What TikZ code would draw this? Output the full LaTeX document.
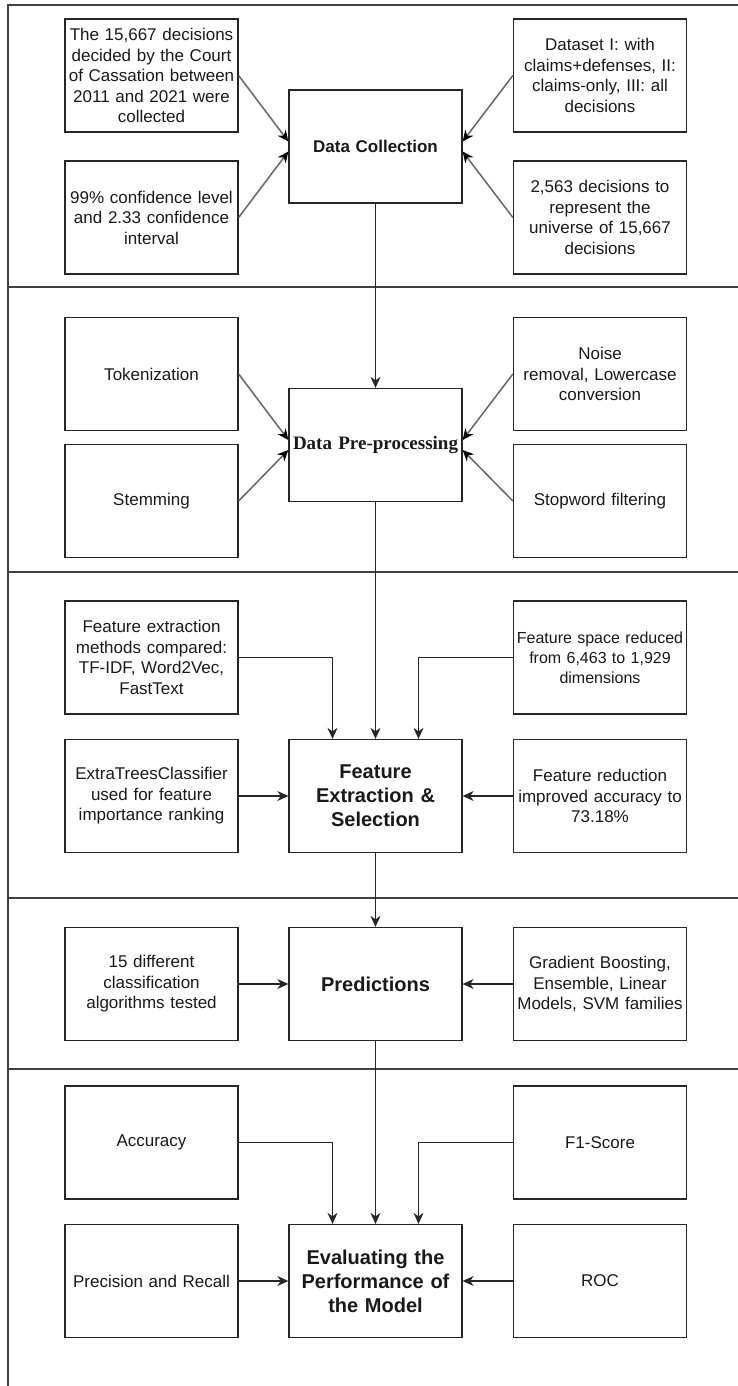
\documentclass[tikz,border=0pt]{standalone}
\usepackage{fontspec}
\setmainfont{Liberation Sans}
\newfontfamily\serifbold{Liberation Serif}
\usetikzlibrary{arrows.meta}
\tikzset{
	box/.style={draw=black!85, line width=1.3pt, minimum width=173pt, minimum height=113pt, text width=168pt, inner sep=0pt, align=center, text=black!90, font=\fontsize{17}{20.5}\selectfont},
	stagebox/.style={box, font=\bfseries\fontsize{20}{24}\selectfont},
	lane/.style={draw=black!75, line width=1.3pt},
	arr/.style={-{Stealth[length=11pt,width=10pt,inset=3.5pt]}, line width=1.3pt, draw=black!85},
	diag/.style={-{Stealth[length=11pt,width=10pt,inset=3.5pt,color=black]}, line width=1.5pt, draw=black!60}
}

\begin{document}
\begin{tikzpicture}[x=1pt, y=-1pt]
		%%%%% START %%%%%
		\useasboundingbox (0,0) rectangle (738,1386);
		
		\draw[lane] (738,5) -- (8,5) -- (8,1386);
		\draw[lane] (8,287) -- (738,287);
		\draw[lane] (8,572) -- (738,572);
		\draw[lane] (8,898) -- (738,898);
		\draw[lane] (8,1069) -- (738,1069);
		
		% data collection
		\node[box, font=\bfseries\fontsize{17}{20.5}\selectfont] (dc) at (375.5,146.5) {Data Collection};
		\node[box] (dc1) at (151.5,75.5) {The 15,667 decisions\\decided by the Court\\of Cassation between\\2011 and 2021 were\\collected};
		\node[box] (dc2) at (151.5,217.5) {99\% confidence level\\and 2.33 confidence\\interval};
		\node[box] (dc3) at (600,75.5) {Dataset I: with\\claims+defenses, II:\\claims-only, III: all\\decisions};
		\node[box] (dc4) at (600,217.5) {2,563 decisions to\\represent the\\universe of 15,667\\decisions};
		
		\draw[diag] (dc1.east) -- ([yshift=5pt]dc.west);
		\draw[diag] (dc2.east) -- ([yshift=-5pt]dc.west);
		\draw[diag] (dc3.west) -- ([yshift=5pt]dc.east);
		\draw[diag] (dc4.west) -- ([yshift=-5pt]dc.east);
		
		% pre-processing
		\node[box, font=\serifbold\bfseries\fontsize{19}{23}\selectfont] (dp) at (375.5,445) {Data Pre-processing};
		\node[box] (dp1) at (151.5,374) {Tokenization};
		\node[box] (dp2) at (151.5,501) {Stemming};
		\node[box] (dp3) at (600,374) {Noise\\removal, Lowercase\\conversion};
		\node[box] (dp4) at (600,501) {Stopword filtering};
		
		\draw[diag] (dp1.east) -- ([yshift=5pt]dp.west);
		\draw[diag] (dp2.east) -- ([yshift=-5pt]dp.west);
		\draw[diag] (dp3.west) -- ([yshift=5pt]dp.east);
		\draw[diag] (dp4.west) -- ([yshift=-5pt]dp.east);
		
		% features
		\node[stagebox] (fe) at (375.5,796) {Feature\\Extraction \&\\Selection};
		\node[box] (fe1) at (151.5,657.5) {Feature extraction\\methods compared:\\TF-IDF, Word2Vec,\\FastText};
		\node[box] (fe2) at (151.5,796) {ExtraTreesClassifier\\used for feature\\importance ranking};
		\node[box, font=\fontsize{16}{20}\selectfont] (fe3) at (600,657.5) {Feature space reduced\\from 6,463 to 1,929\\dimensions};
		\node[box] (fe4) at (600,796) {Feature reduction\\improved accuracy to\\73.18\%};
		
		\draw[arr] (fe1.east) -| ([xshift=-43pt]fe.north);
		\draw[arr] (fe3.west) -| ([xshift=43pt]fe.north);
		\draw[arr] (fe2) -- (fe);
		\draw[arr] (fe4) -- (fe);
		
		% predictions
		\node[stagebox] (pr) at (375.5,984) {Predictions};
		\node[box] (pr1) at (151.5,984) {15 different\\classification\\algorithms tested};
		\node[box] (pr2) at (600,984) {Gradient Boosting,\\Ensemble, Linear\\Models, SVM families};
		
		\draw[arr] (pr1) -- (pr);
		\draw[arr] (pr2) -- (pr);
		
		% evaluation
		\node[stagebox] (ev) at (375.5,1281) {Evaluating the\\Performance of\\the Model};
		\node[box] (ev1) at (151.5,1142.5) {Accuracy};
		\node[box] (ev2) at (151.5,1281) {Precision and Recall};
		\node[box] (ev3) at (600,1142.5) {F1-Score};
		\node[box] (ev4) at (600,1281) {ROC};
		
		\draw[arr] (ev1.east) -| ([xshift=-43pt]ev.north);
		\draw[arr] (ev3.west) -| ([xshift=43pt]ev.north);
		\draw[arr] (ev2) -- (ev);
		\draw[arr] (ev4) -- (ev);
		
		% main flow
		\draw[arr] (dc) -- (dp);
		\draw[arr] (dp) -- (fe);
		\draw[arr] (fe) -- (pr);
		\draw[arr] (pr) -- (ev);
		
		%%%%% END %%%%%
	\end{tikzpicture}
\end{document}
